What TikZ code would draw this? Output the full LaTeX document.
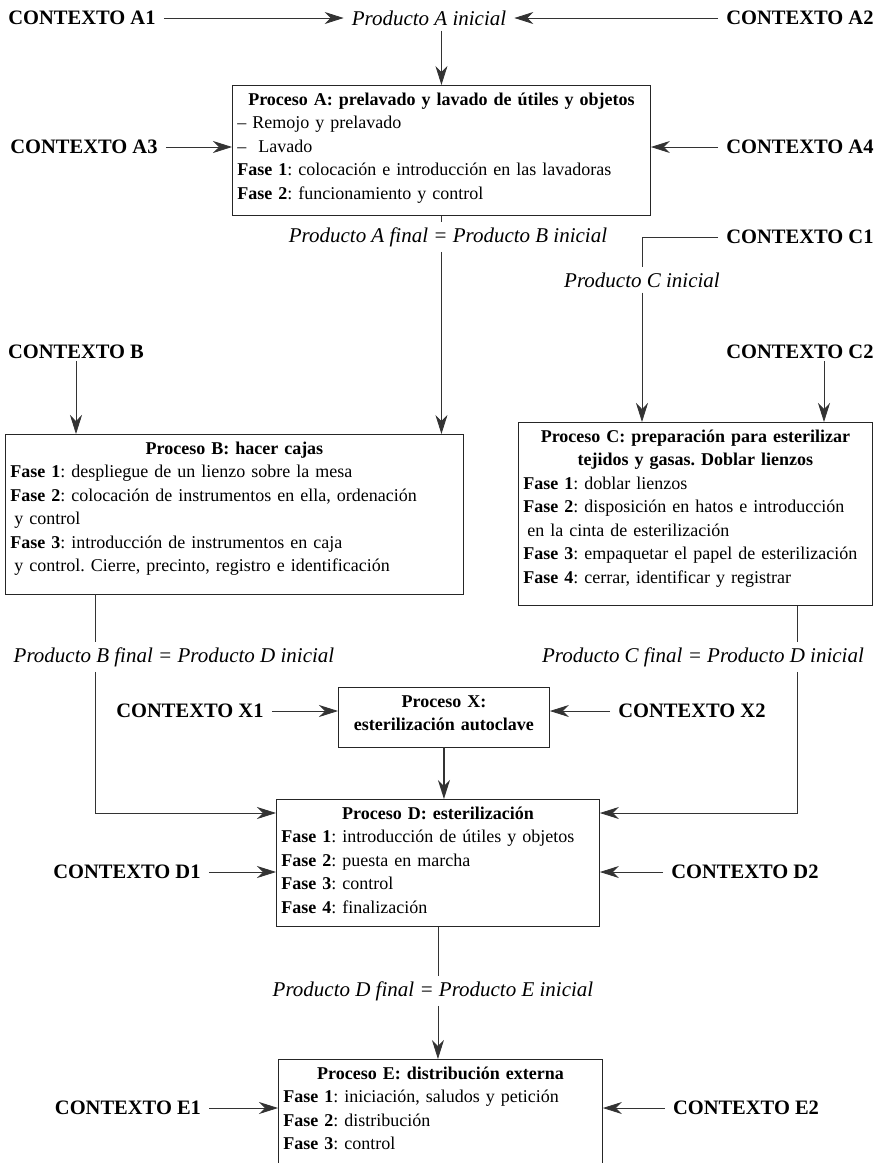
\documentclass[tikz,border=0pt]{standalone}
\usepackage{fontspec}
\setmainfont{Liberation Serif}
\usepackage{tikz}
\usetikzlibrary{arrows.meta}

\newcommand{\ttl}[1]{\hfill\textbf{\rule{0pt}{15pt}#1}\hfill\null}
\newcommand{\bgap}[1]{\rule[-#1pt]{0pt}{1pt}}

\begin{document}
\begin{tikzpicture}[x=1pt,y=-1pt,
  ctx/.style={inner xsep=8pt,inner ysep=2pt,font=\fontsize{20.5}{24}\selectfont\bfseries},
  prod/.style={inner xsep=8pt,inner ysep=5pt,font=\fontsize{21}{25}\selectfont\itshape},
  box/.style={draw=black!85,line width=0.9pt,anchor=north west,inner xsep=5pt,inner ysep=5pt,
    align=left,font=\fontsize{18}{23.5}\selectfont\frenchspacing},
  ln/.style={draw=black!80,line width=0.8pt},
  arr/.style={ln,-{Stealth[length=19pt,width=12pt,inset=6pt]}}]
 \useasboundingbox (0,0) rectangle (880,1163);
 % contextos
 \node[ctx] (a1) at (82,18) {CONTEXTO A1};
 \node[ctx] (a2) at (800,18) {CONTEXTO A2};
 \node[ctx] (a3) at (84,147) {CONTEXTO A3};
 \node[ctx] (a4) at (800,147) {CONTEXTO A4};
 \node[ctx] (c1) at (800,237) {CONTEXTO C1};
 \node[ctx] (cb) at (76,352) {CONTEXTO B};
 \node[ctx] (c2) at (800,352) {CONTEXTO C2};
 \node[ctx] (x1) at (190,711) {CONTEXTO X1};
 \node[ctx] (x2) at (692,711) {CONTEXTO X2};
 \node[ctx] (d1) at (127,872) {CONTEXTO D1};
 \node[ctx] (d2) at (745,872) {CONTEXTO D2};
 \node[ctx] (e1) at (128,1108) {CONTEXTO E1};
 \node[ctx] (e2) at (746,1108) {CONTEXTO E2};
 % productos
 \node[prod] (pai) at (429,18) {Producto A inicial};
 \node[prod] (pab) at (448,237) {Producto A final = Producto B inicial};
 \node[prod] (pci) at (642,280) {Producto C inicial};
 \node[prod] (pbd) at (174,657) {Producto B final = Producto D inicial};
 \node[prod] (pcd) at (703,657) {Producto C final = Producto D inicial};
 \node[prod] (pde) at (433,991) {Producto D final = Producto E inicial};
 % procesos
 \node[box,text width=408pt] (pa) at (232,85) {\ttl{Proceso A: prelavado y lavado de útiles y objetos}\\
  -- Remojo y prelavado\\
  --\ \ Lavado\\
  \textbf{Fase 1}: colocación e introducción en las lavadoras\\
  \textbf{Fase 2}: funcionamiento y control\bgap{11}};
 \node[box,text width=448pt] (pb) at (5,434) {\ttl{Proceso B: hacer cajas}\\
  \textbf{Fase 1}: despliegue de un lienzo sobre la mesa\\
  \textbf{Fase 2}: colocación de instrumentos en ella, ordenación\\
  \hspace*{4pt}y control\\
  \textbf{Fase 3}: introducción de instrumentos en caja\\
  \hspace*{4pt}y control. Cierre, precinto, registro e identificación\bgap{17}};
 \node[box,text width=344pt] (pc) at (518,422) {\ttl{Proceso C: preparación para esterilizar}\\
  \ttl{tejidos y gasas. Doblar lienzos}\\
  \textbf{Fase 1}: doblar lienzos\\
  \textbf{Fase 2}: disposición en hatos e introducción\\
  \hspace*{4pt}en la cinta de esterilización\\
  \textbf{Fase 3}: empaquetar el papel de esterilización\\
  \textbf{Fase 4}: cerrar, identificar y registrar\bgap{17}};
 \node[box,text width=201pt] (px) at (338,687) {\ttl{Proceso X:}\\
  \ttl{esterilización autoclave}\bgap{11}};
 \node[box,text width=313pt] (pd) at (276,799) {\ttl{Proceso D: esterilización}\\
  \textbf{Fase 1}: introducción de útiles y objetos\\
  \textbf{Fase 2}: puesta en marcha\\
  \textbf{Fase 3}: control\\
  \textbf{Fase 4}: finalización\bgap{8}};
 \node[box,text width=314pt] (pe) at (278,1059) {\ttl{Proceso E: distribución externa}\\
  \textbf{Fase 1}: iniciación, saludos y petición\\
  \textbf{Fase 2}: distribución\\
  \textbf{Fase 3}: control\bgap{15}};
 % flechas
 \draw[arr] (a1) -- (pai);
 \draw[arr] (a2) -- (pai);
 \draw[arr] (pai.south -| pa.north) -- (pa.north);
 \foreach \a/\b in {a3/pa,x1/px,d1/pd,e1/pe}
   \draw[arr] (\a) -- (\a -| \b.west);
 \foreach \a/\b in {a4/pa,x2/px,d2/pd,e2/pe}
   \draw[arr] (\a) -- (\a -| \b.east);
 \draw[ln] (pa.south) -- (pa.south |- pab.north);
 \draw[arr] (pa.south |- pab.south) -- (pa.south |- pb.north);
 \draw[ln] (c1.west) -| (pci.north);
 \draw[arr] (pci.south) -- (pci.south |- pc.north);
 \draw[arr] (cb.south) -- (cb.south |- pb.north);
 \coordinate (c2s) at ([xshift=24pt]c2.south);
 \draw[arr] (c2s) -- (c2s |- pc.north);
 \coordinate (bo) at ([xshift=90pt]pb.south west);
 \coordinate (co) at ([xshift=279pt]pc.south west);
 \draw[ln] (bo) -- (bo |- pbd.north);
 \draw[arr] (bo |- pbd.south) |- ([yshift=-14pt]pd.north west);
 \draw[ln] (co) -- (co |- pcd.north);
 \draw[arr] (co |- pcd.south) |- ([yshift=-14pt]pd.north east);
 \draw[arr,line width=1.6pt] (px.south) -- (px.south |- pd.north);
 \draw[ln] (pd.south) -- (pd.south |- pde.north);
 \draw[arr] (pd.south |- pde.south) -- (pd.south |- pe.north);
\end{tikzpicture}
\end{document}
